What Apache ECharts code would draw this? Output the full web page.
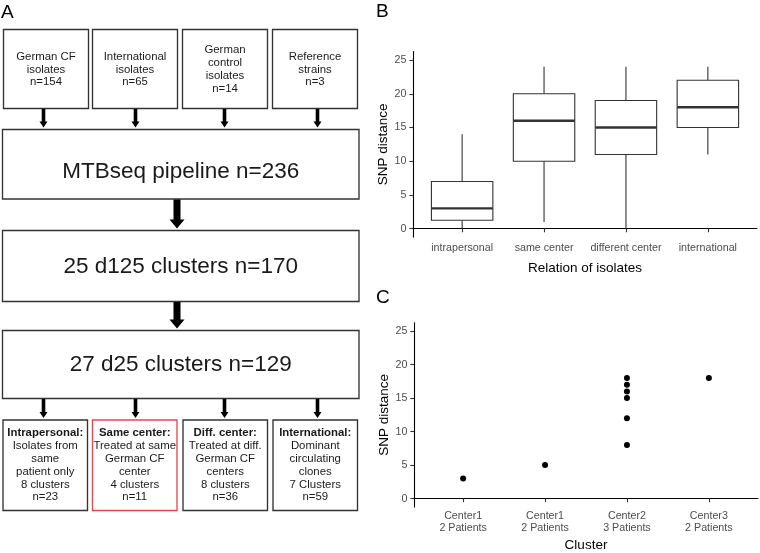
<!DOCTYPE html>
<html>
<head>
<meta charset="utf-8">
<script src="https://cdn.jsdelivr.net/npm/echarts@6/dist/echarts.min.js"></script>
<style>html,body{margin:0;padding:0;background:#fff}#c{width:760px;height:553px}</style>
</head>
<body>
<div id="c"></div>
<script>
// ---------- Panel A: flowchart texts ----------
var topBoxLines = [
  ['German CF', 'isolates', 'n=154'],
  ['International', 'isolates', 'n=65'],
  ['German', 'control', 'isolates', 'n=14'],
  ['Reference', 'strains', 'n=3']
];
var mainSteps = ['MTBseq pipeline n=236', '25 d125 clusters n=170', '27 d25 clusters n=129'];
var bottomTitles = ['Intrapersonal:', 'Same center:', 'Diff. center:', 'International:'];
var bottomLines = [
  ['Isolates from', 'same', 'patient only', '8 clusters', 'n=23'],
  ['Treated at same', 'German CF', 'center', '4 clusters', 'n=11'],
  ['Treated at diff.', 'German CF', 'centers', '8 clusters', 'n=36'],
  ['Dominant', 'circulating', 'clones', '7 Clusters', 'n=59']
];

// ---------- Panel B: boxplot ----------
var bCategories = ['intrapersonal', 'same center', 'different center', 'international'];
var bMin    = [0, 1, 0, 11];
var bQ1     = [1.25, 10, 11, 15];
var bMedian = [3, 16, 15, 18];
var bQ3     = [7, 20, 19, 22];
var bMax    = [14, 24, 24, 24];

// ---------- Panel C: dot plot ----------
var cCategories = ['Center1\n2 Patients', 'Center1\n2 Patients', 'Center2\n3 Patients', 'Center3\n2 Patients'];
var cValues = [[3], [5], [8, 12, 15, 16, 17, 18], [18]];

var yTicks = [0, 5, 10, 15, 20, 25];

var FONT = '"Liberation Sans", Arial, Helvetica, sans-serif';
var BORDER = '#333333';
var TXT = '#1a1a1a';

// ---------- build flowchart graphics ----------
var g = [];
function rect(x, y, w, h, stroke) {
  g.push({type: 'rect', shape: {x: x, y: y, width: w, height: h},
    style: {fill: '#fff', stroke: stroke || BORDER, lineWidth: 1.35}, z: 1});
}
function text(x, y, s, size, bold) {
  g.push({type: 'text', x: x, y: y, z: 3,
    style: {text: s, fill: TXT, font: (bold ? 'bold ' : '') + size + 'px ' + FONT,
      textAlign: 'center', textVerticalAlign: 'middle'}});
}
function arrow(cx, y0, y1, sw, hw, hl) {
  var yh = y1 - hl;
  g.push({type: 'polygon', z: 2, shape: {points: [
    [cx - sw / 2, y0], [cx + sw / 2, y0], [cx + sw / 2, yh], [cx + hw / 2, yh],
    [cx, y1], [cx - hw / 2, yh], [cx - sw / 2, yh]]},
    style: {fill: '#000'}});
}

var colLeft = [3.5, 92.5, 182.5, 272.5];
var colW = 85;
var arrowX = [43.5, 135.5, 224.5, 317.5];
var LH = 12.8;
// top boxes
for (var i = 0; i < 4; i++) {
  rect(colLeft[i], 29.5, colW, 79);
  var ls = topBoxLines[i];
  var cy = 69.5;
  for (var j = 0; j < ls.length; j++) {
    text(colLeft[i] + colW / 2, cy + (j - (ls.length - 1) / 2) * LH, ls[j], 11.4, false);
  }
  arrow(arrowX[i], 109, 127.5, 3.6, 8, 6);
}
// main boxes
var mainTop = [129.5, 230.5, 330.5];
var mainH = [69.5, 71, 68];
var mainTextY = [172, 266.5, 364.7];
for (var k = 0; k < 3; k++) {
  rect(2.5, mainTop[k], 356.5, mainH[k]);
  text(180.7, mainTextY[k], mainSteps[k], 22.5, false);
}
arrow(177, 199.5, 228.5, 7, 15, 9);
arrow(177, 302, 328.5, 7, 15, 9);
// bottom boxes
var botLeft = [3, 92.5, 183, 273];
for (var b = 0; b < 4; b++) {
  arrow(arrowX[b], 399, 418, 3.6, 8, 6);
  rect(botLeft[b], 420, 84.5, 90.5, b === 1 ? '#e8474f' : BORDER);
  var all = [bottomTitles[b]].concat(bottomLines[b]);
  for (var m = 0; m < all.length; m++) {
    text(botLeft[b] + 84.5 / 2, 465.3 + (m - (all.length - 1) / 2) * LH, all[m], 11.4, m === 0);
  }
}
// panel letters
function letter(x, y, s) {
  g.push({type: 'text', x: x, y: y, z: 3,
    style: {text: s, fill: '#000', font: '19px ' + FONT, textAlign: 'left', textVerticalAlign: 'bottom'}});
}
letter(1, 22, 'A');
letter(376, 21, 'B');
letter(376, 307, 'C');

// ---------- data for series ----------
var boxData = bCategories.map(function (c, i) {
  return [i + 1, bMin[i], bQ1[i], bMedian[i], bQ3[i], bMax[i]];
});
var dotData = [];
cValues.forEach(function (arr, i) {
  arr.forEach(function (v) { dotData.push([i + 1, v]); });
});

function xAxisCfg(gridIndex, cats, name, nameGap, labelMargin) {
  return {
    type: 'value', gridIndex: gridIndex, min: 0.4, max: 4.6,
    name: name, nameLocation: 'middle', nameGap: nameGap,
    nameTextStyle: {color: '#000', fontSize: 13.5, fontFamily: FONT},
    axisLine: {show: true, lineStyle: {color: '#000', width: 1.1}},
    axisTick: {show: true, length: 3.6, lineStyle: {color: '#333', width: 1.1}, customValues: [1, 2, 3, 4]},
    axisLabel: {show: true, customValues: [1, 2, 3, 4], margin: labelMargin,
      color: '#4d4d4d', fontSize: 10.7, fontFamily: FONT, lineHeight: 12,
      formatter: function (v) { return cats[Math.round(v) - 1] || ''; }},
    splitLine: {show: false}
  };
}
function yAxisCfg(gridIndex) {
  return {
    type: 'value', gridIndex: gridIndex, min: -1.25, max: 26.25,
    name: 'SNP distance', nameLocation: 'middle', nameGap: 23, nameRotate: 90,
    nameTextStyle: {color: '#000', fontSize: 13.5, fontFamily: FONT},
    axisLine: {show: true, lineStyle: {color: '#000', width: 1.1}},
    axisTick: {show: true, length: 3.6, lineStyle: {color: '#333', width: 1.1}, customValues: yTicks},
    axisLabel: {show: true, customValues: yTicks, margin: 6.5,
      color: '#4d4d4d', fontSize: 10.7, fontFamily: FONT},
    splitLine: {show: false}
  };
}

var chart = echarts.init(document.getElementById('c'), null, {renderer: 'canvas'});
chart.setOption({
  backgroundColor: '#fff',
  animation: false,
  graphic: {elements: g},
  grid: [
    {left: 413, top: 51.6, width: 344, height: 185.5},
    {left: 414, top: 322.7, width: 344, height: 186}
  ],
  xAxis: [
    xAxisCfg(0, bCategories, 'Relation of isolates', 24, 4.5),
    xAxisCfg(1, cCategories, 'Cluster', 31, 3.5)
  ],
  yAxis: [yAxisCfg(0), yAxisCfg(1)],
  series: [
    {
      type: 'custom', xAxisIndex: 0, yAxisIndex: 0,
      data: boxData,
      encode: {x: 0, y: [1, 2, 3, 4, 5]},
      renderItem: function (params, api) {
        var x = api.value(0);
        var lo = api.coord([x, api.value(1)]);
        var q1 = api.coord([x, api.value(2)]);
        var md = api.coord([x, api.value(3)]);
        var q3 = api.coord([x, api.value(4)]);
        var hi = api.coord([x, api.value(5)]);
        var half = api.size([0.75, 0])[0] / 2;
        var st = {stroke: '#333333', lineWidth: 1.1, fill: null};
        return {type: 'group', children: [
          {type: 'line', shape: {x1: lo[0], y1: lo[1], x2: q1[0], y2: q1[1]}, style: st},
          {type: 'line', shape: {x1: q3[0], y1: q3[1], x2: hi[0], y2: hi[1]}, style: st},
          {type: 'rect', shape: {x: q3[0] - half, y: q3[1], width: 2 * half, height: q1[1] - q3[1]},
            style: {stroke: '#333333', lineWidth: 1.1, fill: '#fff'}},
          {type: 'line', shape: {x1: md[0] - half, y1: md[1], x2: md[0] + half, y2: md[1]},
            style: {stroke: '#333333', lineWidth: 2.3}}
        ]};
      }
    },
    {
      type: 'scatter', xAxisIndex: 1, yAxisIndex: 1,
      data: dotData, symbol: 'circle', symbolSize: 6,
      itemStyle: {color: '#000', opacity: 1}
    }
  ]
});
</script>
</body>
</html>
